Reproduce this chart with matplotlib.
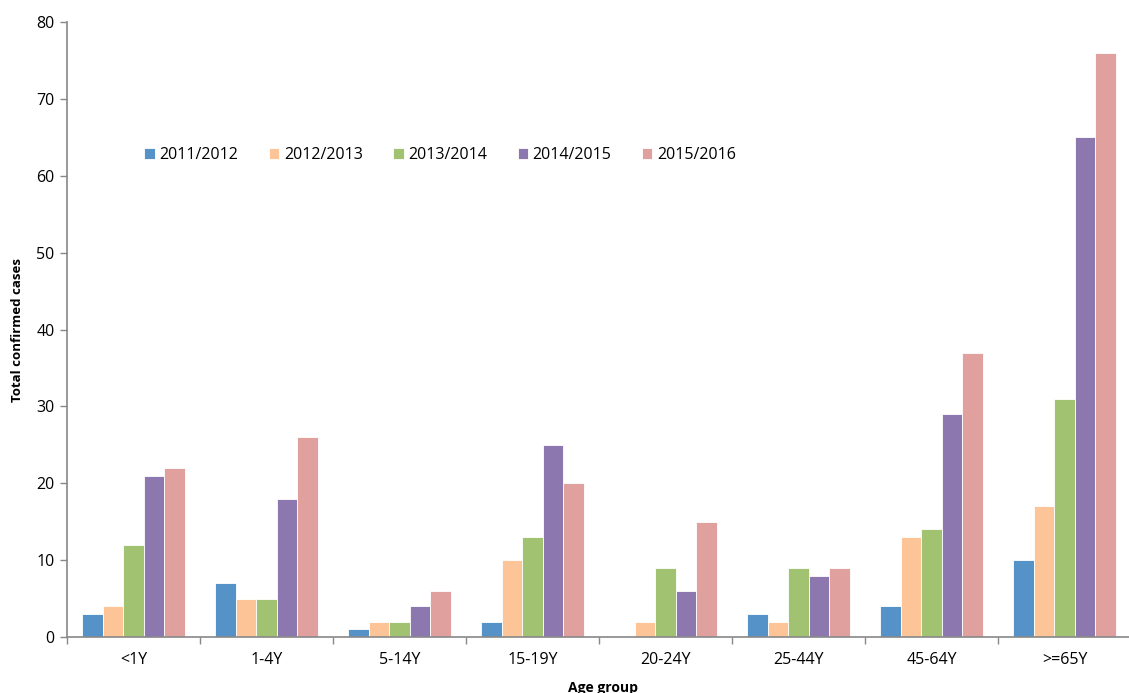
import matplotlib
matplotlib.use("Agg")
import matplotlib.pyplot as plt
import numpy as np

categories = ["<1Y", "1-4Y", "5-14Y", "15-19Y", "20-24Y", "25-44Y", "45-64Y", ">=65Y"]
seasons = ["2011/2012", "2012/2013", "2013/2014", "2014/2015", "2015/2016"]
s2011 = [3, 7, 1, 2, 0, 3, 4, 10]
s2012 = [4, 5, 2, 10, 2, 2, 13, 17]
s2013 = [12, 5, 2, 13, 9, 9, 14, 31]
s2014 = [21, 18, 4, 25, 6, 8, 29, 65]
s2015 = [22, 26, 6, 20, 15, 9, 37, 76]
series = [s2011, s2012, s2013, s2014, s2015]
colors = ["#5592C8", "#FDC498", "#A1C371", "#8C78AF", "#E0A09E"]

plt.rcParams['font.family'] = ['Open Sans', 'DejaVu Sans']

fig = plt.figure(figsize=(11.29, 6.93), dpi=100)
W, H = 1129, 693
left, right, top, bottom = 67, 1131, 22, 637
ax = fig.add_axes([left / W, 1 - bottom / H, (right - left) / W, (bottom - top) / H])

x = np.arange(len(categories))
bw = 0.155
for i, (vals, c, lab) in enumerate(zip(series, colors, seasons)):
    ax.bar(x + (i - 2) * bw, vals, width=bw, color=c, edgecolor="white", linewidth=0.6, label=lab)

ax.set_xlim(-0.5, len(categories) - 0.5)
ax.set_ylim(0, 80)
ax.set_yticks(range(0, 81, 10))
ax.set_xticks(x)
ax.set_xticklabels(categories, fontsize=11.5)
ax.set_xticks(np.arange(-0.5, len(categories), 1.0), minor=True)
ax.tick_params(axis="x", which="major", length=0, pad=11)
ax.tick_params(axis="x", which="minor", length=5, color="#888888", width=1)
ax.tick_params(axis="y", length=5, color="#888888", width=1, labelsize=11.5, pad=4)
for s in ["top", "right"]:
    ax.spines[s].set_visible(False)
for s in ["left", "bottom"]:
    ax.spines[s].set_color("#888888")
    ax.spines[s].set_linewidth(1.2)

fig.text(18 / W, 1 - 330 / H, "Total confirmed cases", rotation=90, fontweight="bold",
         fontsize=9.5, ha="center", va="center")
fig.text(603 / W, 1 - 688 / H, "Age group", fontweight="bold", fontsize=10, ha="center", va="center")

fig.legend(loc="center left", bbox_to_anchor=(130 / W, 1 - 155 / H), ncol=5, frameon=False,
           fontsize=11.5, handlelength=0.65, handleheight=0.65, handletextpad=0.3,
           columnspacing=1.9)

fig.savefig("out.png", dpi=100)
